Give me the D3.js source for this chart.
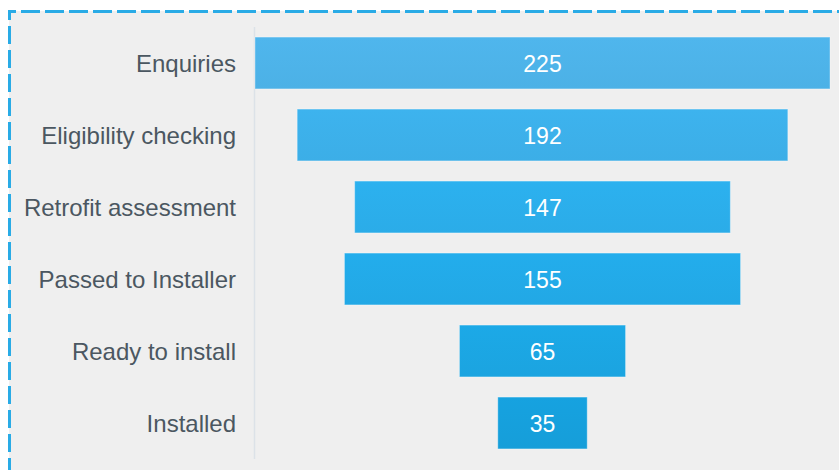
<!DOCTYPE html>
<html>
<head>
<meta charset="utf-8">
<script src="https://cdn.jsdelivr.net/npm/d3@7"></script>
<style>
  html, body { margin: 0; padding: 0; background: #ffffff; }
  svg { display: block; }
</style>
</head>
<body>
<svg id="chart" width="839" height="470"></svg>
<script>
const stages = ["Enquiries", "Eligibility checking", "Retrofit assessment", "Passed to Installer", "Ready to install", "Installed"];
const counts = [225, 192, 147, 155, 65, 35];
const barColors = ["#4db2e8", "#3cafe9", "#2badea", "#22a9e7", "#1ba5e2", "#169fdb"];

const W = 839, H = 470;
const svg = d3.select("#chart");

// panel background
svg.append("rect").attr("x", 9).attr("y", 11).attr("width", W).attr("height", H)
  .attr("fill", "#efefef");

// dashed border (top and left visible)
svg.append("line").attr("x1", 8).attr("x2", W).attr("y1", 11.5).attr("y2", 11.5)
  .attr("stroke", "#29abe6").attr("stroke-width", 3)
  .attr("stroke-dasharray", "19,5").attr("stroke-dashoffset", 11);
svg.append("line").attr("x1", 9.5).attr("x2", 9.5).attr("y1", 10).attr("y2", H)
  .attr("stroke", "#29abe6").attr("stroke-width", 3)
  .attr("stroke-dasharray", "18,6").attr("stroke-dashoffset", 8);

const plotLeft = 255, plotRight = 830;
const center = (plotLeft + plotRight) / 2;

const y = d3.scaleBand().domain(stages).range([27, 459])
  .paddingInner(0.28).paddingOuter(0.14);
const w = d3.scaleLinear().domain([0, d3.max(counts)]).range([0, plotRight - plotLeft]);

// gradients
const defs = svg.append("defs");
barColors.forEach((c, i) => {
  const g = defs.append("linearGradient").attr("id", "g" + i)
    .attr("x1", 0).attr("x2", 0).attr("y1", 0).attr("y2", 1);
  g.append("stop").attr("offset", "0%").attr("stop-color", d3.color(c).brighter(0.06));
  g.append("stop").attr("offset", "100%").attr("stop-color", d3.color(c).darker(0.02));
});

// axis line
svg.append("line").attr("x1", 254.5).attr("x2", 254.5).attr("y1", 27).attr("y2", 459)
  .attr("stroke", "#dce2e8").attr("stroke-width", 1.5);

const data = stages.map((s, i) => ({ stage: s, value: counts[i], i }));

svg.selectAll("rect.bar").data(data).enter().append("rect")
  .attr("class", "bar")
  .attr("x", d => center - w(d.value) / 2)
  .attr("y", d => y(d.stage))
  .attr("width", d => w(d.value))
  .attr("height", y.bandwidth())
  .attr("fill", d => `url(#g${d.i})`)
  .attr("stroke", "rgba(255,255,255,0.35)")
  .attr("stroke-width", 1);

svg.selectAll("text.val").data(data).enter().append("text")
  .attr("class", "val")
  .attr("x", center)
  .attr("y", d => y(d.stage) + y.bandwidth() / 2 + 8.5)
  .attr("text-anchor", "middle")
  .attr("font-family", "'Liberation Sans', Arial, sans-serif")
  .attr("font-size", 23)
  .attr("fill", "#ffffff")
  .text(d => d.value);

svg.selectAll("text.lab").data(data).enter().append("text")
  .attr("class", "lab")
  .attr("x", 236)
  .attr("y", d => y(d.stage) + y.bandwidth() / 2 + 8.5)
  .attr("text-anchor", "end")
  .attr("font-family", "'Liberation Sans', Arial, sans-serif")
  .attr("font-size", 24)
  .attr("fill", "#4b5761")
  .text(d => d.stage);
</script>
</body>
</html>
